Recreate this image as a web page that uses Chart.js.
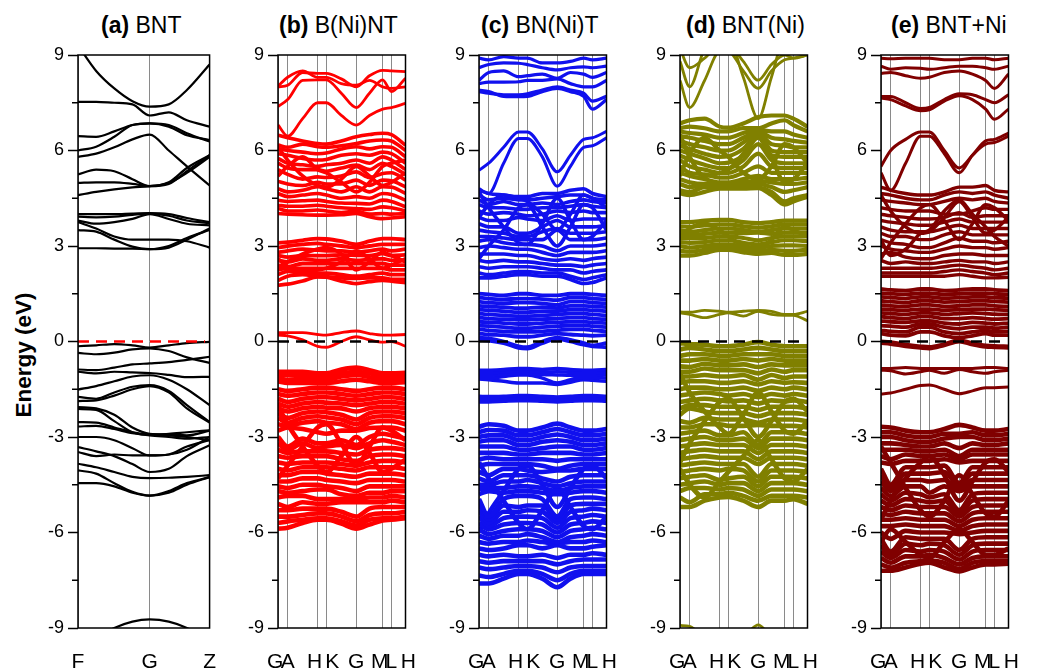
<!DOCTYPE html>
<html>
<head>
<meta charset="utf-8">
<script src="https://cdn.jsdelivr.net/npm/chart.js@4.4.1/dist/chart.umd.min.js"></script>
<style>
  body { margin:0; background:#fff; width:1037px; height:672px; position:relative; overflow:hidden; font-family:"Liberation Sans", Arial, sans-serif; }
  canvas { position:absolute; top:0; }
  .title { position:absolute; top:14px; font-size:23px; line-height:1; white-space:nowrap; color:#000; }
  #ylabel { position:absolute; left:24px; top:355px; transform:translate(-50%,-50%) rotate(-90deg); font-weight:bold; font-size:22.5px; white-space:nowrap; }
</style>
</head>
<body>
<div class="title" style="left:101px"><b>(a)</b> BNT</div>
<div class="title" style="left:279px"><b>(b)</b> B(Ni)NT</div>
<div class="title" style="left:481px"><b>(c)</b> BN(Ni)T</div>
<div class="title" style="left:686px"><b>(d)</b> BNT(Ni)</div>
<div class="title" style="left:891px"><b>(e)</b> BNT+Ni</div>
<div id="ylabel">Energy (eV)</div>
<canvas id="pa" width="210" height="672" style="left:28px"></canvas>
<canvas id="pb" width="210" height="672" style="left:228px"></canvas>
<canvas id="pc" width="210" height="672" style="left:429px"></canvas>
<canvas id="pd" width="210" height="672" style="left:630px"></canvas>
<canvas id="pe" width="210" height="672" style="left:831px"></canvas>
<script>
// energy axis
const yTicks = [-9, -6, -3, 0, 3, 6, 9];
const minorTicks = [-7.5, -4.5, -1.5, 1.5, 4.5, 7.5];
const fermiSpan = [0, 140];

// (a) BNT path F-G-Z
const bntTicks = [0, 79, 145];
const bntLabels = ['F', 'G', 'Z'];
const bntX = [0, 20, 40, 60, 79, 100, 120, 145];
const bntCond = [
  [9.3, 8.5, 7.95, 7.55, 7.38, 7.45, 7.9, 8.7],
  [7.53, 7.53, 7.5, 7.45, 7.1, 7.2, 6.95, 6.75],
  [6.0, 6.12, 6.43, 6.8, 6.85, 6.75, 6.48, 6.33],
  [6.45, 6.43, 6.6, 6.8, 6.85, 6.8, 6.54, 6.28],
  [5.8, 5.9, 6.1, 6.35, 6.5, 6.0, 5.5, 4.9],
  [5.25, 5.4, 5.35, 5.1, 4.88, 5.0, 5.45, 5.85],
  [4.98, 5.0, 5.0, 4.95, 4.88, 4.95, 5.35, 5.85],
  [4.6, 4.7, 4.78, 4.84, 4.88, 4.98, 5.3, 5.8],
  [4.0, 4.0, 4.0, 4.02, 4.03, 4.0, 3.88, 3.75],
  [3.92, 3.9, 3.92, 3.98, 4.02, 3.95, 3.8, 3.72],
  [3.8, 3.7, 3.75, 3.85, 4.0, 3.85, 3.7, 3.65],
  [3.75, 3.55, 3.3, 3.2, 3.2, 3.2, 3.15, 2.95],
  [3.5, 3.45, 3.2, 2.98, 2.9, 3.0, 3.25, 3.5],
  [2.93, 2.93, 2.92, 2.92, 2.9, 2.95, 3.2, 3.55]
];
const bntVal = [
  [-0.15, -0.12, -0.08, -0.12, -0.19, -0.12, -0.05, -0.01],
  [-0.36, -0.4, -0.35, -0.25, -0.22, -0.3, -0.5, -0.67],
  [-0.88, -0.9, -0.82, -0.72, -0.69, -0.65, -0.58, -0.48],
  [-0.95, -1.0, -0.95, -0.97, -0.99, -1.05, -1.12, -1.11],
  [-1.51, -1.4, -1.25, -1.1, -1.06, -1.2, -1.5, -2.0],
  [-1.74, -1.8, -1.6, -1.42, -1.37, -1.55, -2.0, -2.53],
  [-1.87, -1.85, -1.7, -1.5, -1.4, -1.6, -2.1, -2.55],
  [-2.06, -2.1, -2.3, -2.7, -2.9, -2.92, -2.95, -2.8],
  [-2.12, -2.15, -2.5, -2.85, -2.95, -3.0, -3.05, -3.0],
  [-2.53, -2.55, -2.7, -2.85, -2.92, -2.95, -3.0, -3.1],
  [-2.67, -2.65, -2.75, -2.88, -2.93, -2.9, -2.85, -2.79],
  [-3.0, -3.0, -3.1, -3.35, -3.58, -3.55, -3.3, -3.1],
  [-3.32, -3.45, -3.6, -3.85, -4.1, -4.0, -3.6, -3.26],
  [-3.47, -3.6, -3.55, -3.58, -3.58, -3.55, -3.4, -3.0],
  [-3.84, -3.95, -4.1, -4.25, -4.29, -4.28, -4.25, -4.2],
  [-4.05, -4.15, -4.45, -4.72, -4.84, -4.7, -4.45, -4.26],
  [-4.45, -4.45, -4.55, -4.75, -4.84, -4.75, -4.5, -4.26],
  [-9.6, -9.3, -9.0, -8.8, -8.73, -8.8, -9.0, -9.4]
];

// (b)-(e) path G-A-H-K-G-M-L-H
const pathTicks = [0, 11, 45, 55, 89, 119, 129, 145];
const pathLabels = ['G ', 'A', 'H ', '  K', 'G', 'M ', 'L', ' H'];
const pathX = [0, 11, 28, 45, 55, 72, 89, 104, 119, 129, 145];

// (b) B(Ni)NT
const bniUpper = [
  [8.0, 8.05, 8.45, 8.42, 8.42, 8.25, 8.0, 8.35, 8.52, 8.5, 8.48],
  [7.38, 7.6, 8.2, 8.22, 8.22, 7.8, 7.35, 7.8, 8.22, 7.85, 8.27],
  [6.8, 6.45, 7.0, 7.5, 7.5, 7.1, 6.8, 7.1, 7.3, 7.35, 7.48],
  [8.02, 8.3, 8.5, 8.3, 8.3, 8.1, 8.05, 8.2, 8.0, 7.95, 8.0]
];
const bniMid = [
  [6.48, 6.4, 6.3, 6.22, 6.2, 6.3, 6.43, 6.5, 6.54, 6.5, 6.17],
  [6.17, 6.1, 6.2, 6.12, 6.1, 6.15, 6.22, 6.3, 6.33, 6.3, 6.0],
  [6.06, 6.0, 5.95, 5.9, 5.92, 6.05, 6.12, 6.05, 6.12, 6.1, 5.8],
  [5.9, 5.85, 5.75, 5.7, 5.72, 5.85, 5.9, 5.85, 5.95, 5.9, 5.6],
  [5.75, 5.6, 5.55, 5.5, 5.55, 5.6, 5.7, 5.6, 5.8, 5.7, 5.4],
  [5.6, 5.45, 5.4, 5.4, 5.35, 5.45, 5.54, 5.4, 5.6, 5.5, 5.25],
  [5.4, 5.25, 5.1, 5.17, 5.15, 5.2, 5.33, 5.15, 5.28, 5.3, 5.07],
  [5.03, 4.95, 4.9, 5.0, 4.95, 4.95, 5.07, 4.9, 5.07, 5.05, 4.86],
  [4.8, 4.7, 4.75, 4.86, 4.8, 4.7, 4.86, 4.7, 4.86, 4.85, 4.65],
  [4.65, 4.55, 4.6, 4.65, 4.6, 4.5, 4.55, 4.5, 4.65, 4.62, 4.44],
  [4.44, 4.4, 4.42, 4.44, 4.4, 4.35, 4.34, 4.32, 4.44, 4.4, 4.23],
  [4.28, 4.25, 4.25, 4.28, 4.25, 4.2, 4.18, 4.15, 4.23, 4.2, 4.1],
  [4.18, 4.1, 4.1, 4.13, 4.1, 4.05, 4.1, 4.0, 4.02, 4.0, 4.02],
  [4.02, 4.0, 3.98, 3.97, 3.97, 3.98, 4.02, 3.92, 3.86, 3.88, 3.92],
  [6.1, 5.7, 5.2, 4.9, 4.85, 5.1, 5.5, 5.2, 4.9, 5.0, 5.3],
  [5.2, 5.5, 5.8, 5.4, 5.3, 5.0, 4.7, 5.0, 5.5, 5.6, 5.7]
];
const bniLow = [
  [3.1, 3.12, 3.18, 3.23, 3.22, 3.15, 3.05, 3.15, 3.23, 3.23, 3.2],
  [2.95, 3.0, 3.05, 3.08, 3.05, 3.0, 2.95, 3.0, 3.05, 3.05, 3.05],
  [2.8, 2.85, 2.9, 2.87, 2.85, 2.85, 2.8, 2.85, 2.9, 2.85, 2.9],
  [2.7, 2.65, 2.7, 2.7, 2.7, 2.72, 2.71, 2.7, 2.76, 2.7, 2.72],
  [2.55, 2.5, 2.6, 2.55, 2.55, 2.6, 2.55, 2.58, 2.6, 2.55, 2.55],
  [2.4, 2.35, 2.45, 2.45, 2.45, 2.45, 2.45, 2.45, 2.45, 2.4, 2.4],
  [2.25, 2.3, 2.3, 2.3, 2.3, 2.3, 2.3, 2.3, 2.3, 2.25, 2.25],
  [2.1, 2.2, 2.15, 2.15, 2.15, 2.1, 2.05, 2.1, 2.15, 2.1, 2.1],
  [1.92, 2.05, 2.1, 2.05, 2.03, 2.0, 1.98, 2.0, 2.0, 1.95, 1.95],
  [1.77, 1.8, 1.9, 2.03, 2.02, 1.9, 1.82, 1.88, 1.92, 1.9, 1.85],
  [2.6, 2.35, 2.2, 2.25, 2.3, 2.5, 2.85, 2.6, 2.3, 2.4, 2.6],
  [2.25, 2.5, 2.75, 2.9, 2.95, 2.75, 2.25, 2.5, 2.8, 2.7, 2.5]
];
const bniGap = [
  [0.28, 0.28, 0.28, 0.22, 0.2, 0.28, 0.33, 0.25, 0.2, 0.2, 0.22],
  [0.2, 0.18, 0.05, -0.15, -0.18, 0.0, 0.15, 0.05, -0.02, 0.0, -0.15]
];
const bniVal = [
  [-0.95, -0.95, -0.95, -1.0, -1.0, -0.88, -0.82, -0.9, -1.0, -1.0, -0.98],
  [-1.05, -1.05, -1.05, -1.1, -1.1, -1.0, -0.95, -1.0, -1.1, -1.1, -1.08],
  [-1.15, -1.2, -1.18, -1.2, -1.2, -1.1, -1.05, -1.12, -1.2, -1.2, -1.18],
  [-1.25, -1.3, -1.3, -1.3, -1.3, -1.25, -1.2, -1.25, -1.3, -1.3, -1.28],
  [-1.5, -1.55, -1.5, -1.45, -1.45, -1.5, -1.55, -1.5, -1.45, -1.45, -1.5],
  [-1.65, -1.7, -1.65, -1.6, -1.6, -1.65, -1.7, -1.65, -1.6, -1.6, -1.65],
  [-1.8, -1.9, -1.8, -1.75, -1.75, -1.8, -1.85, -1.8, -1.75, -1.75, -1.8],
  [-1.95, -2.05, -1.95, -1.9, -1.92, -1.95, -2.0, -1.95, -1.9, -1.9, -1.95],
  [-2.1, -2.2, -2.1, -2.05, -2.08, -2.1, -2.2, -2.1, -2.05, -2.05, -2.1],
  [-2.25, -2.4, -2.25, -2.2, -2.22, -2.3, -2.45, -2.25, -2.2, -2.2, -2.25],
  [-2.4, -2.55, -2.4, -2.35, -2.38, -2.45, -2.6, -2.4, -2.35, -2.35, -2.4],
  [-2.6, -2.65, -2.55, -2.5, -2.55, -2.6, -2.75, -2.55, -2.5, -2.5, -2.6],
  [-2.8, -2.7, -2.75, -2.85, -2.9, -2.8, -2.8, -2.72, -2.7, -2.7, -2.8],
  [-3.0, -3.3, -3.05, -3.2, -3.2, -3.1, -3.25, -3.0, -2.9, -2.95, -3.05],
  [-3.2, -3.4, -3.2, -3.35, -3.3, -3.25, -3.35, -3.2, -3.1, -3.15, -3.25],
  [-3.4, -3.5, -3.45, -3.45, -3.45, -3.5, -3.55, -3.4, -3.35, -3.35, -3.4],
  [-3.6, -3.65, -3.6, -3.6, -3.6, -3.7, -3.75, -3.6, -3.55, -3.55, -3.6],
  [-3.8, -3.85, -3.8, -3.8, -3.8, -3.85, -3.9, -3.8, -3.75, -3.75, -3.8],
  [-4.0, -4.05, -3.95, -3.95, -3.95, -4.0, -4.05, -3.95, -3.95, -3.95, -4.0],
  [-4.2, -4.2, -4.1, -4.1, -4.15, -4.2, -4.25, -4.15, -4.15, -4.15, -4.2],
  [-4.4, -4.4, -4.3, -4.3, -4.35, -4.4, -4.45, -4.35, -4.35, -4.35, -4.4],
  [-4.55, -4.6, -4.5, -4.5, -4.55, -4.6, -4.7, -4.55, -4.55, -4.55, -4.55],
  [-4.7, -4.75, -4.7, -4.65, -4.65, -4.8, -4.85, -4.75, -4.75, -4.7, -4.7],
  [-4.9, -4.85, -4.85, -4.95, -4.95, -4.95, -4.95, -4.9, -4.9, -4.85, -4.9],
  [-5.1, -5.2, -5.05, -5.1, -5.1, -5.05, -5.05, -5.05, -5.05, -5.0, -5.05],
  [-5.3, -5.3, -5.25, -5.25, -5.25, -5.35, -5.5, -5.25, -5.2, -5.2, -5.2],
  [-5.5, -5.5, -5.45, -5.4, -5.4, -5.5, -5.65, -5.45, -5.4, -5.4, -5.35],
  [-5.7, -5.65, -5.6, -5.55, -5.55, -5.65, -5.78, -5.6, -5.55, -5.55, -5.5],
  [-5.88, -5.85, -5.7, -5.6, -5.6, -5.72, -5.88, -5.75, -5.62, -5.6, -5.55],
  [-2.0, -2.6, -3.3, -3.9, -4.1, -3.6, -3.0, -3.5, -4.1, -4.0, -3.7],
  [-4.3, -3.9, -3.3, -2.7, -2.6, -3.2, -3.9, -3.3, -2.7, -2.8, -3.1]
];

// (c) BN(Ni)T
const bnniUpper = [
  [8.9, 8.85, 8.95, 8.9, 8.9, 8.75, 8.75, 8.8, 8.9, 8.85, 8.9],
  [8.6, 8.7, 8.75, 8.74, 8.7, 8.6, 8.53, 8.6, 8.63, 8.6, 8.65],
  [8.2, 8.45, 8.5, 8.32, 8.35, 8.4, 8.27, 8.45, 8.4, 8.3, 8.45],
  [8.1, 8.15, 8.15, 8.16, 8.2, 8.2, 8.25, 8.1, 8.0, 8.0, 8.2],
  [7.9, 7.85, 7.7, 7.69, 7.7, 7.85, 7.95, 7.85, 7.7, 7.3, 7.6],
  [7.85, 7.8, 7.75, 7.75, 7.78, 7.9, 8.0, 7.9, 7.8, 7.55, 7.7]
];
const bnniIso = [
  [5.38, 5.6, 6.1, 6.58, 6.58, 6.05, 5.33, 5.85, 6.35, 6.4, 6.6],
  [4.8, 4.65, 5.6, 6.38, 6.38, 5.8, 4.88, 5.5, 6.1, 6.15, 6.4]
];
const bnniMid = [
  [4.75, 4.65, 4.6, 4.55, 4.55, 4.65, 4.65, 4.75, 4.8, 4.65, 4.55],
  [4.6, 4.45, 4.5, 4.45, 4.45, 4.5, 4.55, 4.6, 4.6, 4.5, 4.45],
  [4.45, 4.3, 4.4, 4.3, 4.3, 4.35, 4.3, 4.4, 4.45, 4.4, 4.35],
  [4.3, 4.2, 4.2, 4.15, 4.15, 4.2, 4.2, 4.25, 4.3, 4.25, 4.2],
  [4.1, 4.0, 4.05, 4.0, 3.95, 4.0, 4.1, 4.05, 4.1, 4.05, 4.05],
  [3.9, 3.8, 3.8, 3.9, 3.85, 3.8, 3.95, 3.8, 3.85, 3.85, 3.85],
  [3.7, 3.6, 3.6, 3.4, 3.4, 3.6, 3.8, 3.6, 3.6, 3.6, 3.65],
  [3.5, 3.45, 3.4, 3.3, 3.3, 3.45, 3.55, 3.4, 3.4, 3.4, 3.45],
  [3.3, 3.3, 3.25, 3.2, 3.2, 3.2, 3.5, 3.2, 3.2, 3.2, 3.25],
  [3.15, 3.2, 3.1, 3.05, 3.05, 3.0, 2.85, 3.0, 3.0, 3.0, 3.05],
  [2.95, 3.0, 2.95, 2.9, 2.9, 2.8, 2.7, 2.8, 2.8, 2.8, 2.85],
  [2.75, 2.75, 2.75, 2.7, 2.7, 2.6, 2.55, 2.6, 2.55, 2.6, 2.65],
  [2.55, 2.5, 2.55, 2.5, 2.5, 2.45, 2.4, 2.4, 2.35, 2.4, 2.45],
  [2.35, 2.3, 2.35, 2.35, 2.35, 2.3, 2.25, 2.25, 2.15, 2.2, 2.25],
  [2.15, 2.1, 2.15, 2.2, 2.2, 2.15, 2.15, 2.05, 1.95, 2.0, 2.1],
  [2.0, 2.0, 2.05, 2.1, 2.1, 2.05, 2.05, 1.95, 1.82, 1.85, 2.0],
  [4.7, 4.2, 3.6, 3.1, 3.05, 3.7, 4.5, 3.8, 3.2, 3.3, 3.8],
  [2.6, 3.0, 3.5, 4.2, 4.3, 3.6, 3.0, 3.6, 4.3, 4.2, 3.5],
  [3.9, 4.3, 4.6, 4.5, 4.4, 4.0, 3.5, 4.0, 4.6, 4.5, 4.2]
];
const bnniDense = [
  [1.5, 1.48, 1.45, 1.5, 1.5, 1.45, 1.45, 1.5, 1.5, 1.48, 1.45],
  [1.38, 1.35, 1.32, 1.35, 1.35, 1.33, 1.3, 1.38, 1.38, 1.35, 1.32],
  [1.25, 1.22, 1.2, 1.22, 1.22, 1.2, 1.15, 1.25, 1.25, 1.22, 1.2],
  [1.12, 1.1, 1.08, 1.05, 1.05, 1.08, 1.05, 1.12, 1.12, 1.1, 1.08],
  [1.0, 0.98, 0.95, 0.92, 0.92, 0.95, 0.95, 1.0, 1.0, 0.98, 0.95],
  [0.88, 0.85, 0.82, 0.8, 0.8, 0.82, 0.85, 0.88, 0.88, 0.85, 0.82],
  [0.75, 0.72, 0.7, 0.68, 0.68, 0.7, 0.72, 0.75, 0.75, 0.72, 0.7],
  [0.62, 0.6, 0.58, 0.55, 0.55, 0.58, 0.6, 0.62, 0.62, 0.6, 0.58],
  [0.5, 0.48, 0.45, 0.42, 0.42, 0.45, 0.48, 0.5, 0.5, 0.48, 0.45],
  [0.38, 0.35, 0.32, 0.3, 0.3, 0.32, 0.35, 0.38, 0.38, 0.35, 0.32],
  [0.25, 0.22, 0.2, 0.15, 0.15, 0.2, 0.25, 0.22, 0.2, 0.18, 0.2],
  [0.12, 0.1, 0.0, -0.15, -0.18, 0.0, 0.12, 0.05, -0.05, -0.12, -0.05],
  [0.05, 0.03, -0.05, -0.2, -0.22, -0.05, 0.08, 0.0, -0.1, -0.15, -0.18]
];
const bnniFlat = [
  [-0.9, -0.9, -0.88, -0.85, -0.85, -0.88, -0.85, -0.88, -0.9, -0.9, -0.88],
  [-0.98, -0.98, -0.95, -0.93, -0.93, -0.96, -0.95, -0.97, -0.98, -0.98, -0.97],
  [-1.06, -1.06, -1.03, -1.0, -1.0, -1.04, -1.05, -1.06, -1.06, -1.06, -1.05],
  [-1.15, -1.15, -1.1, -1.05, -1.05, -1.15, -1.3, -1.2, -1.12, -1.12, -1.15],
  [-1.18, -1.2, -1.25, -1.3, -1.3, -1.3, -1.35, -1.28, -1.2, -1.22, -1.25],
  [-1.72, -1.73, -1.72, -1.7, -1.7, -1.72, -1.74, -1.72, -1.7, -1.7, -1.72],
  [-1.82, -1.82, -1.8, -1.78, -1.78, -1.8, -1.83, -1.8, -1.78, -1.78, -1.8],
  [-1.9, -1.9, -1.88, -1.86, -1.86, -1.88, -1.9, -1.88, -1.86, -1.86, -1.88]
];
const bnniVal = [
  [-2.68, -2.6, -2.65, -2.8, -2.8, -2.7, -2.58, -2.7, -2.8, -2.8, -2.75],
  [-2.85, -2.78, -2.8, -2.95, -2.95, -2.85, -2.75, -2.85, -2.95, -2.95, -2.9],
  [-3.0, -2.95, -2.95, -3.1, -3.1, -3.0, -2.92, -3.0, -3.1, -3.1, -3.05],
  [-3.15, -3.1, -3.1, -3.25, -3.25, -3.15, -3.1, -3.15, -3.25, -3.25, -3.2],
  [-3.3, -3.3, -3.3, -3.4, -3.4, -3.35, -3.3, -3.3, -3.4, -3.4, -3.35],
  [-3.5, -3.5, -3.5, -3.55, -3.55, -3.5, -3.5, -3.5, -3.55, -3.55, -3.5],
  [-3.7, -3.65, -3.7, -3.7, -3.7, -3.7, -3.75, -3.7, -3.7, -3.7, -3.7],
  [-3.9, -3.85, -3.85, -3.85, -3.85, -3.9, -4.0, -3.9, -3.85, -3.85, -3.85],
  [-4.1, -4.2, -4.0, -4.0, -4.05, -4.1, -4.05, -4.05, -4.0, -4.0, -4.0],
  [-4.3, -4.4, -4.2, -4.2, -4.2, -4.3, -4.4, -4.25, -4.2, -4.2, -4.2],
  [-4.5, -4.5, -4.4, -4.4, -4.35, -4.45, -4.55, -4.45, -4.4, -4.4, -4.4],
  [-4.65, -4.6, -4.6, -4.55, -4.55, -4.6, -4.7, -4.6, -4.55, -4.55, -4.55],
  [-4.8, -4.7, -4.75, -4.7, -4.7, -4.75, -4.8, -4.75, -4.7, -4.7, -4.75],
  [-4.95, -5.5, -4.95, -4.85, -4.85, -4.95, -5.5, -4.95, -4.9, -4.9, -4.95],
  [-5.1, -5.6, -5.15, -5.2, -5.15, -5.15, -5.6, -5.15, -5.1, -5.1, -5.1],
  [-5.3, -5.7, -5.35, -5.35, -5.3, -5.35, -5.7, -5.35, -5.3, -5.25, -5.3],
  [-5.5, -5.8, -5.55, -5.5, -5.5, -5.55, -5.85, -5.55, -5.5, -5.45, -5.5],
  [-5.7, -5.9, -5.75, -5.7, -5.7, -5.75, -6.0, -5.75, -5.7, -5.65, -5.7],
  [-5.9, -6.05, -5.95, -5.9, -5.9, -5.95, -6.15, -5.95, -5.9, -5.85, -5.9],
  [-6.1, -6.2, -6.1, -6.1, -6.05, -6.15, -6.3, -6.15, -6.1, -6.05, -6.1],
  [-6.3, -6.35, -6.3, -6.3, -6.25, -6.3, -6.35, -6.3, -6.3, -6.25, -6.3],
  [-6.5, -6.55, -6.5, -6.4, -6.4, -6.5, -6.4, -6.5, -6.5, -6.45, -6.4],
  [-6.7, -6.75, -6.7, -6.75, -6.75, -6.7, -6.8, -6.7, -6.7, -6.65, -6.7],
  [-6.9, -6.95, -6.9, -6.9, -6.9, -6.9, -7.0, -6.9, -6.85, -6.85, -6.85],
  [-7.1, -7.15, -7.1, -7.05, -7.05, -7.1, -7.25, -7.1, -7.05, -7.05, -7.05],
  [-7.35, -7.4, -7.3, -7.2, -7.2, -7.3, -7.5, -7.3, -7.2, -7.2, -7.2],
  [-7.6, -7.6, -7.45, -7.3, -7.3, -7.45, -7.72, -7.45, -7.3, -7.3, -7.3],
  [-3.8, -4.3, -5.0, -5.7, -5.9, -5.3, -4.6, -5.2, -5.8, -5.9, -5.5],
  [-6.0, -5.4, -4.7, -4.0, -3.9, -4.5, -5.2, -4.6, -4.0, -3.9, -4.3]
];

// (d) BNT(Ni)
const bntniUpper = [
  [8.2, 7.35, 8.2, 9.1, 9.1, 8.5, 7.95, 8.5, 8.85, 8.9, 9.0],
  [9.2, 8.6, 8.9, 9.3, 9.3, 8.8, 8.21, 8.7, 9.0, 8.9, 9.0],
  [8.8, 8.0, 9.2, 9.5, 9.5, 8.3, 7.0, 8.3, 9.5, 9.5, 9.3]
];
const bntniMid = [
  [6.85, 6.95, 7.0, 6.75, 6.72, 6.85, 7.05, 7.1, 7.1, 7.0, 6.75],
  [6.7, 6.75, 6.7, 6.6, 6.6, 6.7, 6.7, 6.85, 6.95, 6.8, 6.6],
  [6.6, 6.55, 6.5, 6.4, 6.4, 6.55, 6.65, 6.6, 6.6, 6.5, 6.4],
  [6.45, 6.4, 6.3, 6.2, 6.2, 6.4, 6.6, 6.4, 6.35, 6.3, 6.25],
  [6.3, 6.2, 6.1, 6.0, 6.0, 6.25, 6.55, 6.2, 6.15, 6.1, 6.1],
  [6.15, 6.05, 5.9, 5.8, 5.82, 6.05, 6.5, 6.0, 5.95, 5.95, 5.95],
  [6.0, 5.9, 5.75, 5.6, 5.62, 5.85, 6.4, 5.85, 5.8, 5.8, 5.8],
  [5.85, 5.7, 5.55, 5.45, 5.45, 5.7, 6.2, 5.7, 5.6, 5.6, 5.6],
  [5.7, 5.5, 5.4, 5.3, 5.3, 5.5, 5.9, 5.5, 5.45, 5.45, 5.45],
  [5.5, 5.3, 5.25, 5.15, 5.15, 5.3, 5.5, 5.3, 5.3, 5.3, 5.3],
  [5.3, 5.2, 5.1, 5.0, 5.0, 5.1, 5.2, 5.1, 5.1, 5.1, 5.15],
  [5.1, 5.0, 4.95, 4.95, 4.92, 5.0, 5.05, 5.0, 4.95, 4.95, 5.0],
  [4.95, 4.85, 4.9, 4.88, 4.87, 4.92, 4.95, 4.85, 4.7, 4.75, 4.85],
  [4.75, 4.7, 4.85, 4.86, 4.86, 4.88, 4.85, 4.7, 4.4, 4.5, 4.6],
  [4.65, 4.6, 4.7, 4.8, 4.8, 4.8, 4.82, 4.6, 4.3, 4.4, 4.55],
  [5.2, 5.9, 6.4, 6.0, 5.8, 5.3, 5.1, 5.5, 6.2, 6.1, 5.6],
  [6.5, 5.8, 5.2, 5.3, 5.4, 5.9, 6.5, 5.8, 5.0, 5.1, 5.6]
];
const bntniLow = [
  [3.75, 3.75, 3.8, 3.82, 3.82, 3.75, 3.72, 3.75, 3.8, 3.8, 3.8],
  [3.62, 3.6, 3.65, 3.68, 3.68, 3.62, 3.58, 3.62, 3.68, 3.68, 3.68],
  [3.5, 3.45, 3.5, 3.55, 3.55, 3.5, 3.45, 3.5, 3.55, 3.55, 3.55],
  [3.38, 3.35, 3.38, 3.42, 3.42, 3.4, 3.42, 3.38, 3.42, 3.42, 3.42],
  [3.25, 3.25, 3.25, 3.3, 3.3, 3.25, 3.18, 3.25, 3.3, 3.3, 3.3],
  [3.12, 3.1, 3.12, 3.18, 3.18, 3.1, 3.05, 3.12, 3.18, 3.18, 3.15],
  [3.0, 2.95, 3.0, 3.05, 3.05, 2.98, 2.95, 3.0, 3.02, 3.02, 3.0],
  [2.85, 2.82, 2.88, 2.95, 2.95, 2.88, 2.85, 2.88, 2.85, 2.85, 2.88],
  [2.7, 2.7, 2.78, 2.88, 2.88, 2.8, 2.75, 2.78, 2.72, 2.72, 2.75],
  [3.3, 3.55, 3.7, 3.5, 3.3, 3.0, 2.85, 3.2, 3.6, 3.5, 3.3]
];
const bntniGap = [
  [0.93, 0.92, 0.98, 0.95, 0.92, 0.95, 0.98, 0.95, 0.85, 0.85, 0.95],
  [0.9, 0.85, 0.75, 0.85, 0.9, 0.8, 0.95, 0.85, 0.82, 0.82, 0.65]
];
const bntniVal = [
  [-0.05, -0.08, -0.1, -0.15, -0.15, -0.1, -0.02, -0.1, -0.15, -0.15, -0.15],
  [-0.25, -0.2, -0.25, -0.3, -0.3, -0.25, -0.2, -0.25, -0.3, -0.3, -0.3],
  [-0.45, -0.4, -0.4, -0.45, -0.45, -0.4, -0.4, -0.4, -0.45, -0.45, -0.45],
  [-0.6, -0.6, -0.55, -0.6, -0.6, -0.55, -0.6, -0.55, -0.6, -0.6, -0.6],
  [-0.78, -0.8, -0.7, -0.75, -0.75, -0.72, -0.8, -0.72, -0.75, -0.75, -0.75],
  [-0.95, -0.95, -0.85, -0.9, -0.9, -0.9, -1.0, -0.88, -0.95, -0.9, -0.9],
  [-1.1, -1.1, -1.05, -1.1, -1.1, -1.05, -1.2, -1.05, -1.15, -1.1, -1.1],
  [-1.3, -1.25, -1.25, -1.3, -1.3, -1.25, -1.35, -1.25, -1.3, -1.28, -1.3],
  [-1.5, -1.45, -1.45, -1.5, -1.5, -1.45, -1.55, -1.45, -1.5, -1.45, -1.5],
  [-1.7, -1.65, -1.6, -1.65, -1.7, -1.65, -1.75, -1.65, -1.7, -1.65, -1.7],
  [-1.9, -1.85, -1.8, -1.85, -1.88, -1.85, -1.95, -1.85, -1.88, -1.85, -1.9],
  [-2.1, -2.0, -2.0, -2.05, -2.05, -2.05, -2.15, -2.05, -2.05, -2.05, -2.1],
  [-2.3, -2.1, -2.2, -2.25, -2.25, -2.25, -2.35, -2.25, -2.25, -2.25, -2.3],
  [-2.5, -2.55, -2.4, -2.45, -2.45, -2.45, -2.55, -2.45, -2.45, -2.45, -2.5],
  [-2.7, -2.7, -2.6, -2.6, -2.65, -2.65, -2.62, -2.65, -2.65, -2.65, -2.7],
  [-2.9, -2.85, -2.8, -2.95, -2.95, -2.85, -3.25, -2.85, -2.85, -2.85, -2.9],
  [-3.1, -3.05, -3.0, -3.1, -3.1, -3.05, -3.35, -3.05, -3.05, -3.05, -3.1],
  [-3.3, -3.25, -3.2, -3.25, -3.25, -3.25, -3.5, -3.25, -3.25, -3.25, -3.3],
  [-3.5, -3.45, -3.4, -3.45, -3.45, -3.45, -3.7, -3.45, -3.45, -3.45, -3.5],
  [-3.7, -3.65, -3.6, -3.65, -3.65, -3.65, -3.85, -3.65, -3.65, -3.65, -3.7],
  [-3.9, -3.85, -3.8, -3.85, -3.85, -3.85, -4.25, -3.85, -3.85, -3.85, -3.9],
  [-4.1, -4.05, -4.0, -4.05, -4.0, -4.05, -4.4, -4.05, -4.05, -4.05, -4.1],
  [-4.3, -4.25, -4.2, -4.35, -4.3, -4.25, -4.55, -4.25, -4.25, -4.25, -4.3],
  [-4.5, -4.45, -4.4, -4.5, -4.45, -4.45, -4.7, -4.45, -4.45, -4.45, -4.5],
  [-4.7, -4.6, -4.6, -4.65, -4.6, -4.65, -4.85, -4.65, -4.65, -4.65, -4.7],
  [-4.9, -5.05, -4.8, -4.8, -4.75, -4.85, -5.0, -4.85, -4.85, -4.85, -4.9],
  [-5.2, -5.2, -5.0, -4.9, -4.88, -5.0, -5.2, -5.0, -5.0, -4.95, -5.1],
  [-1.0, -1.6, -2.2, -2.7, -2.9, -2.3, -1.6, -2.2, -2.8, -2.9, -2.5],
  [-3.8, -3.2, -2.5, -1.9, -1.8, -2.4, -3.0, -2.5, -1.9, -1.8, -2.2],
  [-4.0, -4.5, -4.9, -4.4, -4.1, -3.6, -3.1, -3.7, -4.3, -4.4, -4.0]
];
const bntniDeep = [
  [-8.92, -8.95, -9.3, -9.5, -9.5, -9.3, -8.9, -9.3, -9.5, -9.5, -9.5]
];

// (e) BNT+Ni
const bntplusUpper = [
  [8.9, 8.88, 8.9, 8.9, 8.9, 8.85, 8.85, 8.9, 8.9, 8.85, 8.9],
  [8.65, 8.55, 8.6, 8.58, 8.55, 8.6, 8.65, 8.65, 8.6, 8.55, 8.65],
  [8.42, 8.45, 8.35, 8.27, 8.3, 8.45, 8.5, 8.4, 8.2, 7.95, 8.4],
  [7.7, 7.7, 7.5, 7.32, 7.35, 7.6, 7.78, 7.75, 7.6, 7.5, 7.75],
  [7.65, 7.6, 7.4, 7.25, 7.28, 7.55, 7.72, 7.6, 7.3, 6.98, 7.3]
];
const bntplusIso = [
  [5.5, 6.0, 6.35, 6.58, 6.58, 6.0, 5.45, 5.85, 6.3, 6.35, 6.55],
  [5.3, 4.75, 5.6, 6.45, 6.45, 5.9, 5.3, 5.85, 6.2, 6.25, 6.45]
];
const bntplusMid = [
  [4.85, 4.75, 4.65, 4.6, 4.6, 4.7, 4.85, 4.85, 4.9, 4.75, 4.7],
  [4.65, 4.6, 4.5, 4.45, 4.45, 4.6, 4.7, 4.65, 4.7, 4.6, 4.5],
  [4.45, 4.4, 4.35, 4.3, 4.3, 4.4, 4.5, 4.45, 4.5, 4.4, 4.35],
  [4.2, 4.15, 4.1, 4.1, 4.1, 4.0, 4.0, 4.1, 4.2, 4.15, 4.15],
  [4.0, 3.95, 3.9, 3.85, 3.85, 3.9, 4.05, 3.9, 3.95, 3.95, 3.95],
  [3.8, 3.75, 3.7, 3.65, 3.65, 3.75, 3.85, 3.75, 3.75, 3.75, 3.75],
  [3.6, 3.5, 3.45, 3.45, 3.45, 3.55, 3.65, 3.55, 3.55, 3.55, 3.55],
  [3.4, 3.3, 3.3, 3.2, 3.2, 3.35, 3.45, 3.35, 3.35, 3.35, 3.35],
  [3.2, 3.1, 3.05, 2.95, 2.95, 3.1, 3.25, 3.15, 3.15, 3.1, 3.15],
  [3.0, 2.9, 2.85, 2.8, 2.8, 2.9, 3.0, 2.95, 2.95, 2.9, 2.95],
  [2.75, 2.8, 2.65, 2.6, 2.6, 2.7, 2.75, 2.75, 2.7, 2.7, 2.7],
  [2.55, 2.45, 2.5, 2.45, 2.45, 2.5, 2.55, 2.5, 2.5, 2.45, 2.5],
  [2.3, 2.3, 2.3, 2.3, 2.3, 2.35, 2.4, 2.35, 2.3, 2.25, 2.3],
  [2.15, 2.15, 2.15, 2.15, 2.15, 2.2, 2.25, 2.2, 2.15, 2.1, 2.15],
  [2.05, 2.05, 2.05, 2.05, 2.05, 2.05, 2.1, 2.05, 2.0, 2.0, 2.02],
  [4.6, 4.1, 3.6, 3.4, 3.45, 3.9, 4.4, 3.9, 3.4, 3.5, 3.9],
  [2.6, 3.1, 3.7, 4.2, 4.3, 3.8, 3.2, 3.7, 4.3, 4.2, 3.8],
  [3.2, 2.7, 2.9, 3.4, 3.5, 4.1, 4.45, 4.0, 3.6, 3.3, 3.0]
];
const bntplusDense = [
  [1.65, 1.62, 1.6, 1.65, 1.65, 1.6, 1.62, 1.65, 1.65, 1.62, 1.6],
  [1.52, 1.5, 1.48, 1.52, 1.52, 1.48, 1.5, 1.52, 1.52, 1.5, 1.48],
  [1.4, 1.38, 1.35, 1.4, 1.4, 1.36, 1.38, 1.4, 1.4, 1.38, 1.36],
  [1.28, 1.25, 1.22, 1.28, 1.28, 1.24, 1.25, 1.28, 1.28, 1.26, 1.24],
  [1.15, 1.12, 1.1, 1.15, 1.15, 1.1, 1.12, 1.15, 1.15, 1.12, 1.1],
  [1.02, 1.0, 0.98, 1.02, 1.02, 0.98, 1.0, 1.02, 1.02, 1.0, 0.98],
  [0.9, 0.88, 0.85, 0.9, 0.9, 0.85, 0.88, 0.9, 0.88, 0.86, 0.85],
  [0.78, 0.75, 0.72, 0.78, 0.78, 0.72, 0.72, 0.75, 0.72, 0.7, 0.72],
  [0.65, 0.62, 0.6, 0.65, 0.65, 0.58, 0.55, 0.6, 0.58, 0.55, 0.58],
  [0.5, 0.48, 0.45, 0.55, 0.55, 0.45, 0.4, 0.45, 0.45, 0.42, 0.45],
  [0.35, 0.32, 0.3, 0.45, 0.45, 0.3, 0.25, 0.3, 0.35, 0.3, 0.32],
  [0.25, 0.2, 0.18, 0.3, 0.3, 0.18, 0.12, 0.18, 0.25, 0.2, 0.2],
  [0.0, -0.02, -0.1, -0.15, -0.17, -0.08, 0.04, -0.05, -0.12, -0.14, -0.15],
  [-0.05, -0.08, -0.15, -0.2, -0.22, -0.12, 0.0, -0.1, -0.17, -0.18, -0.2]
];
const bntplusFlat = [
  [-0.85, -0.85, -0.82, -0.85, -0.85, -0.85, -0.85, -0.85, -0.82, -0.82, -0.85],
  [-0.9, -0.92, -1.02, -0.95, -0.9, -1.0, -0.88, -0.95, -1.0, -0.95, -0.9],
  [-1.65, -1.62, -1.5, -1.38, -1.37, -1.5, -1.64, -1.55, -1.45, -1.45, -1.43]
];
const bntplusVal = [
  [-2.68, -2.7, -2.8, -2.85, -2.85, -2.75, -2.62, -2.7, -2.8, -2.8, -2.75],
  [-2.85, -2.85, -2.95, -3.0, -3.0, -2.9, -2.9, -2.85, -2.95, -2.95, -2.9],
  [-3.0, -3.0, -3.1, -3.15, -3.15, -3.05, -3.0, -3.0, -3.1, -3.1, -3.05],
  [-3.2, -3.2, -3.25, -3.3, -3.3, -3.2, -3.35, -3.2, -3.25, -3.25, -3.2],
  [-3.4, -3.4, -3.4, -3.45, -3.45, -3.4, -3.6, -3.4, -3.4, -3.4, -3.4],
  [-3.6, -3.7, -3.55, -3.6, -3.6, -3.55, -3.7, -3.55, -3.55, -3.55, -3.55],
  [-3.8, -3.85, -3.75, -3.75, -3.75, -3.7, -3.8, -3.75, -3.75, -3.75, -3.75],
  [-4.0, -4.5, -3.95, -3.95, -3.95, -3.9, -4.45, -3.95, -3.95, -3.95, -3.95],
  [-4.2, -4.6, -4.15, -4.15, -4.15, -4.1, -4.55, -4.15, -4.15, -4.15, -4.15],
  [-4.4, -4.7, -4.35, -4.35, -4.4, -4.35, -4.65, -4.35, -4.35, -4.35, -4.35],
  [-4.6, -4.85, -4.55, -4.55, -4.75, -4.55, -4.7, -4.55, -4.55, -4.55, -4.55],
  [-4.8, -5.0, -4.75, -4.8, -4.9, -4.8, -5.3, -4.8, -4.75, -4.75, -4.75],
  [-5.0, -5.15, -4.95, -5.0, -5.05, -5.0, -5.4, -5.0, -4.95, -4.95, -4.95],
  [-5.2, -5.3, -5.15, -5.2, -5.2, -5.2, -5.5, -5.2, -5.15, -5.15, -5.15],
  [-5.4, -5.45, -5.35, -5.4, -5.4, -5.4, -5.65, -5.4, -5.35, -5.35, -5.35],
  [-5.6, -5.6, -5.55, -5.6, -5.6, -5.6, -5.8, -5.6, -5.55, -5.55, -5.55],
  [-5.8, -5.8, -5.75, -5.8, -5.8, -5.8, -5.95, -5.8, -5.75, -5.75, -5.75],
  [-6.0, -6.2, -5.95, -6.0, -6.0, -6.0, -6.05, -6.0, -5.95, -5.95, -5.95],
  [-6.2, -6.6, -6.15, -6.2, -6.2, -6.2, -6.55, -6.2, -6.15, -6.15, -6.15],
  [-6.4, -6.7, -6.35, -6.4, -6.35, -6.4, -6.7, -6.4, -6.35, -6.35, -6.35],
  [-6.6, -6.8, -6.55, -6.6, -6.55, -6.6, -6.85, -6.6, -6.55, -6.55, -6.55],
  [-6.8, -6.95, -6.75, -6.75, -6.7, -6.8, -7.0, -6.8, -6.75, -6.75, -6.75],
  [-7.0, -7.1, -6.95, -6.9, -6.88, -6.95, -7.15, -6.95, -6.9, -6.9, -6.9],
  [-7.2, -7.2, -7.1, -6.98, -6.95, -7.1, -7.22, -7.1, -7.0, -7.0, -6.98],
  [-3.3, -3.8, -4.6, -5.3, -5.5, -5.0, -4.2, -4.8, -5.4, -5.5, -5.0],
  [-5.6, -5.0, -4.3, -3.8, -3.6, -4.2, -5.0, -4.4, -3.8, -3.7, -4.1],
  [-6.3, -5.9, -6.3, -6.7, -6.8, -6.3, -5.9, -6.3, -6.7, -6.7, -6.5]
];

const fontFamily = '"Liberation Sans", Arial, sans-serif';

// frame box and short minor ticks on the energy axis
const framePlugin = {
  id: 'frame',
  afterDraw(chart) {
    const { ctx, chartArea: a, scales: { y } } = chart;
    ctx.save();
    ctx.strokeStyle = '#000';
    ctx.lineWidth = 1.5;
    ctx.strokeRect(a.left, a.top, a.right - a.left, a.bottom - a.top);
    minorTicks.forEach(v => {
      const py = y.getPixelForValue(v);
      ctx.beginPath();
      ctx.moveTo(a.left - 6, py);
      ctx.lineTo(a.left, py);
      ctx.stroke();
    });
    ctx.restore();
  }
};

// groups: [bands, lineWidth] pairs; dense bundles get a heavier stroke
function makePanel(id, xs, groups, color, ticksPos, tickText, fermiColor) {
  const datasets = [{
    data: fermiSpan.map(x => ({ x: x, y: 0 })),
    borderColor: fermiColor, borderWidth: 2.5, borderDash: [11, 7], pointRadius: 0
  }];
  groups.forEach(([bands, width]) => bands.forEach(band => {
    datasets.push({
      data: band.map((e, i) => ({ x: xs[i], y: e })),
      borderColor: color, borderWidth: width, pointRadius: 0,
      cubicInterpolationMode: 'monotone'
    });
  }));
  new Chart(document.getElementById(id), {
    type: 'line',
    data: { datasets },
    plugins: [framePlugin],
    options: {
      responsive: false, animation: false, devicePixelRatio: 1,
      layout: { padding: { top: 55, right: 15, left: 0, bottom: 0 } },
      plugins: { legend: { display: false }, tooltip: { enabled: false } },
      scales: {
        x: {
          type: 'linear', min: 0, max: 145,
          afterBuildTicks: s => { s.ticks = ticksPos.map(v => ({ value: v })); },
          afterFit: s => { s.height = 44; },
          grid: { color: '#8a8a8a', lineWidth: 1, drawTicks: false },
          border: { display: false },
          ticks: {
            autoSkip: false, maxRotation: 0, padding: 22, color: '#000',
            font: { size: 21, family: fontFamily },
            callback: (v, i) => tickText[i]
          }
        },
        y: {
          min: -9, max: 9,
          afterBuildTicks: s => { s.ticks = yTicks.map(v => ({ value: v })); },
          afterFit: s => { s.width = 50; },
          grid: { drawOnChartArea: false, drawTicks: true, tickLength: 10, tickColor: '#000', tickWidth: 1.5 },
          border: { display: false },
          ticks: { padding: 4, color: '#000', font: { size: 18, family: fontFamily }, callback: v => String(v) }
        }
      }
    }
  });
}

makePanel('pa', bntX, [[bntCond, 2.2], [bntVal, 2.2]], '#000000', bntTicks, bntLabels, '#ff0000');
makePanel('pb', pathX, [[bniUpper, 2.8], [bniMid, 3.6], [bniLow, 3.8], [bniGap, 2.8], [bniVal, 4.6]],
  '#ff0000', pathTicks, pathLabels, '#000000');
makePanel('pc', pathX, [[bnniUpper, 3.2], [bnniIso, 3], [bnniMid, 3.6], [bnniDense, 3.8], [bnniFlat, 3.5], [bnniVal, 4.6]],
  '#1010ee', pathTicks, pathLabels, '#000000');
makePanel('pd', pathX, [[bntniUpper, 2.8], [bntniMid, 4.2], [bntniLow, 4.2], [bntniGap, 2.8], [bntniVal, 4.6], [bntniDeep, 2.8]],
  '#808000', pathTicks, pathLabels, '#000000');
makePanel('pe', pathX, [[bntplusUpper, 3], [bntplusIso, 3], [bntplusMid, 3.4], [bntplusDense, 3.8], [bntplusFlat, 3], [bntplusVal, 4.6]],
  '#800000', pathTicks, pathLabels, '#000000');
</script>
</body>
</html>
